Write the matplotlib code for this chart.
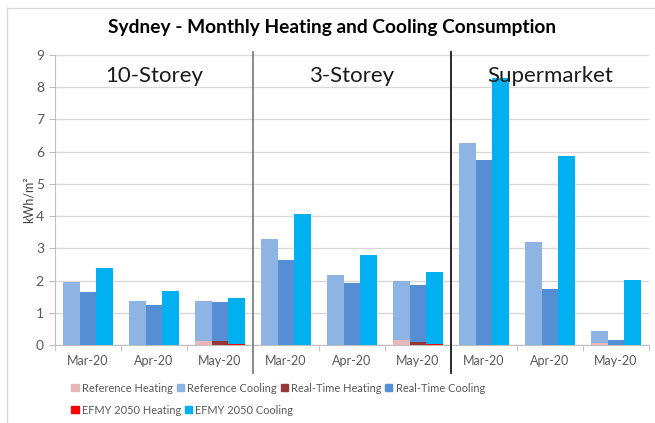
import matplotlib
matplotlib.use("Agg")
import matplotlib.pyplot as plt
from matplotlib.lines import Line2D
from matplotlib.patches import Patch
import numpy as np

plt.rcParams['font.family'] = ['Lato', 'DejaVu Sans']

months = ["Mar-20", "Apr-20", "May-20"] * 3
groups = ["10-Storey", "3-Storey", "Supermarket"]

ref_heat = [0, 0, 0.13, 0, 0, 0.14, 0, 0, 0.05]
ref_cool = [1.97, 1.38, 1.24, 3.28, 2.17, 1.84, 6.26, 3.20, 0.37]
rt_heat = [0, 0, 0.11, 0, 0, 0.10, 0, 0, 0.01]
rt_cool = [1.65, 1.25, 1.21, 2.63, 1.92, 1.76, 5.73, 1.73, 0.14]
ef_heat = [0, 0, 0.02, 0, 0, 0.02, 0, 0, 0.0]
ef_cool = [2.40, 1.68, 1.45, 4.06, 2.79, 2.24, 8.28, 5.86, 2.02]

c_rh, c_rc = "#E6B9B8", "#8EB4E3"
c_th, c_tc = "#953735", "#558ED5"
c_eh, c_ec = "#FF0000", "#00B0F0"

fig = plt.figure(figsize=(6.55, 4.23), dpi=100)
ax = fig.add_axes([55/655, 1-345/423, 594/655, 290/423])

x = np.arange(len(months))
w = 0.25
series = [
    (x - w, ref_heat, ref_cool, c_rh, c_rc),
    (x, rt_heat, rt_cool, c_th, c_tc),
    (x + w, ef_heat, ef_cool, c_eh, c_ec),
]
for xs, h, c, ch, cc in series:
    ax.bar(xs, h, width=w, color=ch, linewidth=0, zorder=3)
    ax.bar(xs, c, width=w, bottom=h, color=cc, linewidth=0, zorder=3)

ax.set_xlim(-0.5, len(months) - 0.5)
ax.set_ylim(0, 9)
ax.set_yticks(range(10))
ax.yaxis.grid(True, color="#D9D9D9", linewidth=1, zorder=0)
ax.set_xticks(x)
ax.set_xticklabels(months)
ax.tick_params(axis='x', length=0, pad=7, labelsize=9, labelcolor="#595959")
ax.tick_params(axis='y', length=4, color="#BFBFBF", pad=4, labelsize=10, labelcolor="#595959")
ax.set_xticks(np.arange(-0.5, len(months)), minor=True)
ax.tick_params(axis='x', which='minor', length=4, color="#BFBFBF")
for s in ["top", "right"]:
    ax.spines[s].set_visible(False)
ax.spines["left"].set_color("#BFBFBF")
ax.spines["bottom"].set_color("#BFBFBF")
ax.set_ylabel("kWh/m²", fontsize=9, color="#404040", labelpad=1)

# separators
for xv, col in [(2.5, "#7F7F7F"), (5.5, "#1A1A1A")]:
    ax.add_line(Line2D([xv, xv], [1.01, -0.095], transform=ax.get_xaxis_transform(),
                       color=col, linewidth=1.3, clip_on=False, zorder=5))

for i, g in enumerate(groups):
    ax.text(3 * i + 1, 8.35, g, ha='center', va='center', fontsize=16, color="#1A1A1A", zorder=6)

fig.text(0.507, 1 - 28/423, "Sydney - Monthly Heating and Cooling Consumption",
         ha='center', va='center', fontsize=13.8, fontweight='bold', color='black')

handles = [Patch(color=c_rh), Patch(color=c_rc), Patch(color=c_th), Patch(color=c_tc),
           Patch(color=c_eh), Patch(color=c_ec)]
labels = ["Reference Heating", "Reference Cooling", "Real-Time Heating", "Real-Time Cooling",
          "EFMY 2050 Heating", "EFMY 2050 Cooling"]
leg_kw = dict(loc='center left', frameon=False, fontsize=7.9, handlelength=0.65,
              handleheight=0.65, handletextpad=0.3, columnspacing=0.35, borderpad=0)
leg1 = fig.legend(handles[:4], labels[:4], ncol=4, bbox_to_anchor=(66/655, 1 - 388/423), **leg_kw)
leg2 = fig.legend(handles[4:], labels[4:], ncol=2, bbox_to_anchor=(66/655, 1 - 410/423), **leg_kw)
for leg in (leg1, leg2):
    for t in leg.get_texts():
        t.set_color("#595959")

# chart border
fig.add_artist(Line2D([7/655, 7/655], [0, 1 - 8/423], transform=fig.transFigure, color="#D9D9D9", linewidth=1))
fig.add_artist(Line2D([7/655, 1], [1 - 8/423, 1 - 8/423], transform=fig.transFigure, color="#D9D9D9", linewidth=1))

fig.savefig("out.png", dpi=100)
